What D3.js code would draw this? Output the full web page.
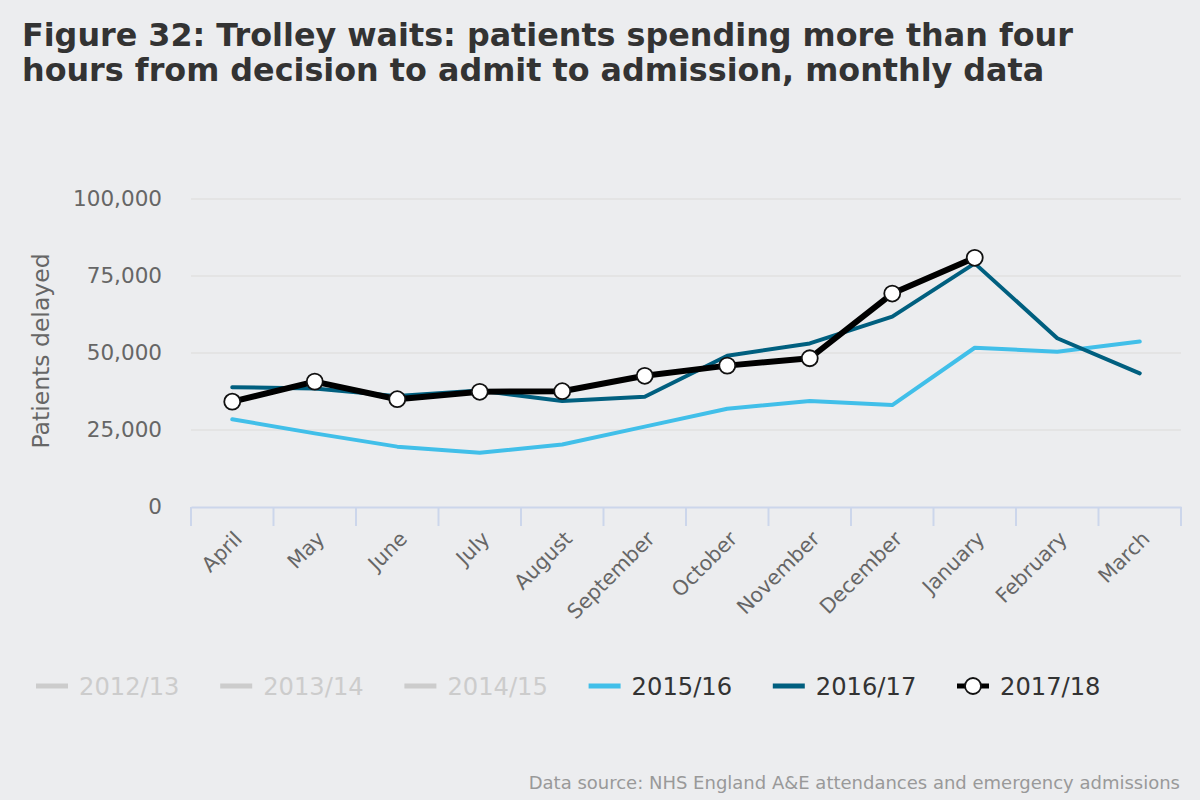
<!DOCTYPE html>
<html>
<head>
<meta charset="utf-8">
<script src="https://cdn.jsdelivr.net/npm/d3@7"></script>
<style>
  body { margin: 0; background: #ecedef; }
  svg { display: block; font-family: "DejaVu Sans", Verdana, sans-serif; }
</style>
</head>
<body>
<svg id="chart" width="1200" height="800"></svg>
<script>
// Data
const months = ['April', 'May', 'June', 'July', 'August', 'September', 'October', 'November', 'December', 'January', 'February', 'March'];
const yTicks = [0, 25000, 50000, 75000, 100000];
const s2015 = [28500, 23900, 19600, 17600, 20300, 26100, 31900, 34400, 33100, 51700, 50400, 53700];
const s2016 = [38900, 38500, 36000, 37800, 34400, 35800, 49100, 53100, 61800, 79100, 54800, 43400];
const s2017 = [34200, 40700, 35000, 37400, 37600, 42600, 45900, 48300, 69300, 80900];
const legendNames = ['2012/13', '2013/14', '2014/15', '2015/16', '2016/17', '2017/18'];

const width = 1200, height = 800;
const margin = {left: 191, right: 19, top: 199, bottom: 293};

const svg = d3.select('#chart');

svg.append('rect').attr('width', width).attr('height', height).attr('fill', '#ecedef');

// Title
const title = svg.append('text')
    .attr('x', 22).attr('y', 46)
    .attr('fill', '#333333')
    .attr('font-size', 31.8)
    .attr('font-weight', 'bold');
title.append('tspan').attr('x', 22).attr('dy', 0).text('Figure 32: Trolley waits: patients spending more than four');
title.append('tspan').attr('x', 22).attr('dy', 35).text('hours from decision to admit to admission, monthly data');

// Scales
const xScale = d3.scaleBand()
    .domain(months)
    .range([margin.left, width - margin.right]);

const yScale = d3.scaleLinear()
    .domain([0, 100000])
    .range([height - margin.bottom, margin.top]);

// Gridlines
svg.append('g')
    .selectAll('line')
    .data(yTicks.slice(1))
    .join('line')
    .attr('x1', margin.left).attr('x2', width - margin.right)
    .attr('y1', d => yScale(d)).attr('y2', d => yScale(d))
    .attr('stroke', '#e4e4e4').attr('stroke-width', 2);

// Y axis
const yAxis = svg.append('g')
    .attr('transform', `translate(${margin.left}, 0)`)
    .call(d3.axisLeft(yScale).tickValues(yTicks).tickFormat(d3.format(',')).tickSize(0).tickPadding(29));
yAxis.select('.domain').remove();
yAxis.selectAll('text').attr('fill', '#666666').attr('font-size', 21.5).attr('font-family', '"DejaVu Sans", Verdana, sans-serif');

svg.append('text')
    .attr('transform', `translate(49, ${yScale(50000) - 2}) rotate(-90)`)
    .attr('text-anchor', 'middle')
    .attr('fill', '#666666')
    .attr('font-size', 23.5)
    .text('Patients delayed');

// X axis
const xAxis = svg.append('g')
    .attr('transform', `translate(0, ${yScale(0)})`)
    .call(d3.axisBottom(xScale).tickSize(0));
xAxis.select('.domain').attr('stroke', '#ccd6eb').attr('stroke-width', 2);
xAxis.selectAll('.tick line').remove();
xAxis.selectAll('.tick').append('line')
    .attr('x1', -xScale.bandwidth() / 2).attr('x2', -xScale.bandwidth() / 2)
    .attr('y1', 0).attr('y2', 19)
    .attr('stroke', '#ccd6eb').attr('stroke-width', 2);
svg.append('line')
    .attr('x1', width - margin.right).attr('x2', width - margin.right)
    .attr('y1', yScale(0)).attr('y2', yScale(0) + 19)
    .attr('stroke', '#ccd6eb').attr('stroke-width', 2);
xAxis.selectAll('.tick text')
    .attr('fill', '#666666')
    .attr('font-size', 20.5)
    .attr('font-family', '"DejaVu Sans", Verdana, sans-serif')
    .attr('text-anchor', 'end')
    .attr('dy', 0)
    .attr('transform', 'translate(9, 31) rotate(-45)');

// Lines
const line = d3.line()
    .x((d, i) => xScale(months[i]) + xScale.bandwidth() / 2)
    .y(d => yScale(d));

svg.append('path').datum(s2015)
    .attr('d', line).attr('fill', 'none')
    .attr('stroke', '#41bfe9').attr('stroke-width', 4)
    .attr('stroke-linejoin', 'round').attr('stroke-linecap', 'round');

svg.append('path').datum(s2016)
    .attr('d', line).attr('fill', 'none')
    .attr('stroke', '#005f7f').attr('stroke-width', 4)
    .attr('stroke-linejoin', 'round').attr('stroke-linecap', 'round');

svg.append('path').datum(s2017)
    .attr('d', line).attr('fill', 'none')
    .attr('stroke', '#000000').attr('stroke-width', 6)
    .attr('stroke-linejoin', 'round').attr('stroke-linecap', 'round');

svg.append('g')
    .selectAll('circle')
    .data(s2017)
    .join('circle')
    .attr('cx', (d, i) => xScale(months[i]) + xScale.bandwidth() / 2)
    .attr('cy', d => yScale(d))
    .attr('r', 8)
    .attr('fill', '#ffffff')
    .attr('stroke', '#111111')
    .attr('stroke-width', 1.8);

// Legend
const legendColors = ['#cccccc', '#cccccc', '#cccccc', '#41bfe9', '#005f7f', '#000000'];
const legend = svg.append('g').attr('transform', 'translate(36, 686)');
const items = legend.selectAll('g')
    .data(legendNames)
    .join('g')
    .attr('transform', (d, i) => `translate(${i * 184.2}, 0)`);
items.append('line')
    .attr('x1', 0).attr('x2', 32).attr('y1', 0).attr('y2', 0)
    .attr('stroke', (d, i) => legendColors[i]).attr('stroke-width', 5);
items.filter((d, i) => i === 5).append('circle')
    .attr('cx', 16).attr('cy', 0).attr('r', 8)
    .attr('fill', '#ffffff').attr('stroke', '#111111').attr('stroke-width', 1.8);
items.append('text')
    .attr('x', 43).attr('y', 8.5)
    .attr('font-size', 24.2)
    .attr('fill', (d, i) => i < 3 ? '#cccccc' : '#333333')
    .text(d => d);

// Source
svg.append('text')
    .attr('x', 1180).attr('y', 789)
    .attr('text-anchor', 'end')
    .attr('font-size', 18)
    .attr('fill', '#999999')
    .text('Data source: NHS England A&E attendances and emergency admissions');
</script>
</body>
</html>
